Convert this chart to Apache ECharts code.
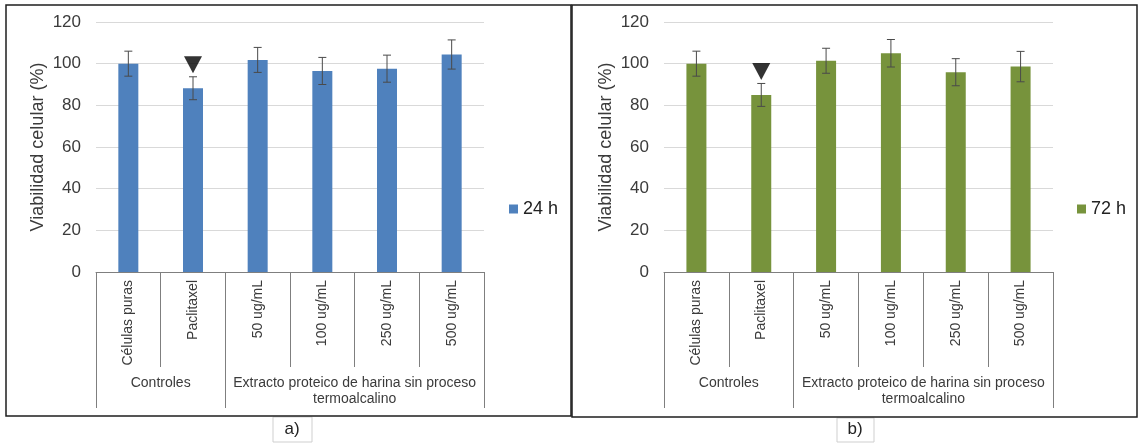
<!DOCTYPE html>
<html>
<head>
<meta charset="utf-8">
<script src="https://cdn.jsdelivr.net/npm/echarts@6/dist/echarts.min.js"></script>
<style>
  html, body { margin: 0; padding: 0; background: #ffffff; }
  #chart { width: 1139px; height: 444px; }
</style>
</head>
<body>
<div id="chart"></div>
<script>
// Treatments on the category axis
const categories = ['Células puras', 'Paclitaxel', '50 ug/mL', '100 ug/mL', '250 ug/mL', '500 ug/mL'];
// Group headers under the category labels, with their category boundaries
const groupNames = ['Controles', 'Extracto proteico de harina sin proceso\ntermoalcalino'];
const groupBounds = [0, 2, 6];
// Cell viability (%) and error (±) after 24 h
const viab24 = [100, 88.2, 101.8, 96.5, 97.6, 104.4];
const err24 = [6, 5.5, 6, 6.5, 6.5, 7];
// Cell viability (%) and error (±) after 72 h
const viab72 = [100, 85, 101.4, 105, 95.9, 98.6];
const err72 = [6, 5.5, 6, 6.6, 6.5, 7.3];
// Index of the treatment flagged with a marker
const flagged = [1];
// Value axis ticks
const yTicks = [0, 20, 40, 60, 80, 100, 120];
const panelTags = ['a)', 'b)'];

const FONT = '"Liberation Sans", Arial, sans-serif';
const TEXT = '#3b3b3b';
const groupCenters = groupBounds.slice(0, -1).map((b, i) => (b + groupBounds[i + 1]) / 2);

const chart = echarts.init(document.getElementById('chart'), null, { renderer: 'canvas' });

const grids = [
  { left: 96, right: 655, top: 22, bottom: 172 },
  { left: 664, right: 86, top: 22, bottom: 172 }
];

function errorBarRender(params, api) {
  const x = api.value(0), y = api.value(1), e = api.value(2);
  const top = api.coord([x, y + e]);
  const bot = api.coord([x, y - e]);
  const cap = 4;
  const style = { stroke: '#4a4a4a', lineWidth: 1 };
  return {
    type: 'group',
    children: [
      { type: 'line', shape: { x1: top[0], y1: top[1], x2: bot[0], y2: bot[1] }, style },
      { type: 'line', shape: { x1: top[0] - cap, y1: top[1], x2: top[0] + cap, y2: top[1] }, style },
      { type: 'line', shape: { x1: bot[0] - cap, y1: bot[1], x2: bot[0] + cap, y2: bot[1] }, style }
    ]
  };
}

const xAxes = [], yAxes = [], series = [], legends = [];
const panels = [
  { name: '24 h', color: '#4F81BD', vals: viab24, errs: err24, legendLeft: 509 },
  { name: '72 h', color: '#77933C', vals: viab72, errs: err72, legendLeft: 1077 }
];

panels.forEach((p, g) => {
  // main category axis with separators between treatments
  xAxes.push({
    type: 'category', gridIndex: g, position: 'bottom', data: categories,
    axisLine: { show: true, lineStyle: { color: '#7f7f7f', width: 1 } },
    axisTick: { show: true, interval: 0, length: 95, lineStyle: { color: '#7f7f7f' } },
    axisLabel: { interval: 0, rotate: 90, margin: 8, fontSize: 14, color: TEXT, fontFamily: FONT },
    splitLine: { show: false }
  });
  // group axis: boundaries and group headers
  xAxes.push({
    type: 'value', gridIndex: g, position: 'bottom', min: groupBounds[0], max: groupBounds[groupBounds.length - 1],
    axisLine: { show: false },
    splitLine: { show: false },
    axisTick: { show: true, customValues: groupBounds, length: 136, lineStyle: { color: '#7f7f7f' } },
    axisLabel: {
      customValues: groupCenters, margin: 103, fontSize: 14, lineHeight: 16, color: TEXT, fontFamily: FONT,
      align: 'center',
      formatter: (v) => groupNames[groupCenters.indexOf(v)]
    }
  });
  yAxes.push({
    type: 'value', gridIndex: g, min: yTicks[0], max: yTicks[yTicks.length - 1], interval: yTicks[1] - yTicks[0],
    name: 'Viabilidad celular (%)', nameLocation: 'middle', nameGap: 49, nameRotate: 90,
    nameTextStyle: { fontSize: 18, color: TEXT, fontFamily: FONT },
    axisLine: { show: false }, axisTick: { show: false },
    axisLabel: { fontSize: 17, margin: 15, color: TEXT, fontFamily: FONT },
    splitLine: { show: true, lineStyle: { color: '#d9d9d9', width: 1 } }
  });
  const xi = g * 2;
  series.push({
    name: p.name, type: 'bar', xAxisIndex: xi, yAxisIndex: g, barWidth: 20,
    itemStyle: { color: p.color }, data: p.vals, z: 2
  });
  series.push({
    name: p.name + ' error', type: 'custom', xAxisIndex: xi, yAxisIndex: g,
    renderItem: errorBarRender, data: p.vals.map((v, i) => [i, v, p.errs[i]]), z: 3
  });
  series.push({
    name: p.name + ' flag', type: 'scatter', xAxisIndex: xi, yAxisIndex: g,
    symbol: 'triangle', symbolRotate: 180, symbolSize: [18, 17], symbolOffset: [0, -12],
    itemStyle: { color: '#000000' }, data: flagged.map(i => [i, p.vals[i] + p.errs[i]]), z: 4
  });
  legends.push({
    data: [p.name], left: p.legendLeft, top: 200, orient: 'vertical', padding: 0,
    icon: 'rect', itemWidth: 9, itemHeight: 9, itemGap: 5,
    textStyle: { fontSize: 18, color: '#222', fontFamily: FONT }
  });
});

chart.setOption({
  animation: false,
  backgroundColor: '#ffffff',
  grid: grids,
  xAxis: xAxes,
  yAxis: yAxes,
  legend: legends,
  series: series,
  graphic: [
    // panel frames
    { type: 'rect', shape: { x: 6, y: 5, width: 565, height: 411 }, style: { fill: 'none', stroke: '#1e1e1e', lineWidth: 1.5 }, z: 10 },
    { type: 'rect', shape: { x: 572, y: 5, width: 565, height: 412 }, style: { fill: 'none', stroke: '#1e1e1e', lineWidth: 1.5 }, z: 10 },
    // caption boxes under each panel
    { type: 'rect', shape: { x: 273, y: 417, width: 39, height: 25 }, style: { fill: 'none', stroke: '#cfcfcf', lineWidth: 1 } },
    { type: 'rect', shape: { x: 837, y: 418, width: 37, height: 24 }, style: { fill: 'none', stroke: '#cfcfcf', lineWidth: 1 } },
    { type: 'text', x: 292, y: 429, style: { text: panelTags[0], fontSize: 17, fill: '#222', fontFamily: FONT, align: 'center', verticalAlign: 'middle' } },
    { type: 'text', x: 855, y: 429, style: { text: panelTags[1], fontSize: 17, fill: '#222', fontFamily: FONT, align: 'center', verticalAlign: 'middle' } }
  ]
});
</script>
</body>
</html>
